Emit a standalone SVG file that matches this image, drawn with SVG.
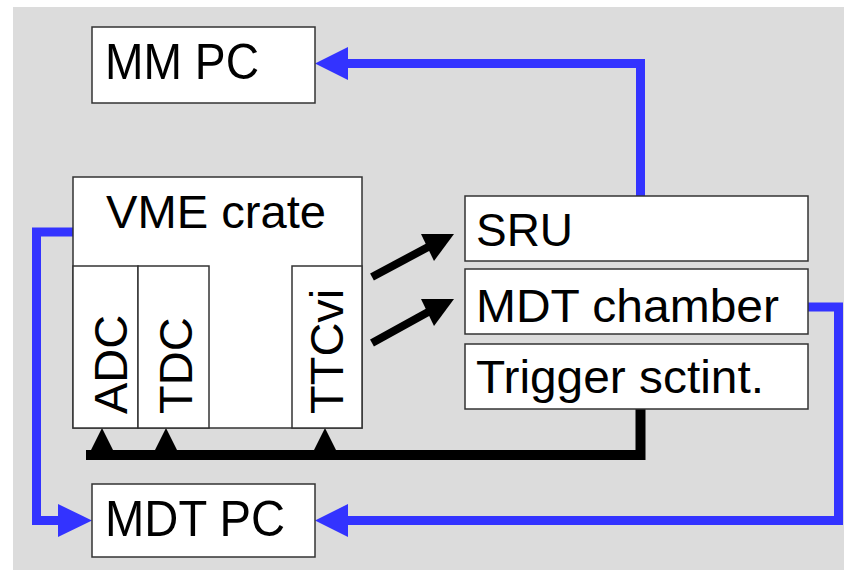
<svg xmlns="http://www.w3.org/2000/svg" width="844" height="571" viewBox="0 0 844 571">
  <style>
    .box { fill: #ffffff; stroke: #333333; stroke-width: 1.5; }
    .lbl { font-family: "Liberation Sans", Arial, sans-serif; fill: #000000; }
    .blue { fill: none; stroke: #3333ff; stroke-width: 9; stroke-linejoin: miter; }
    .bluehead { fill: #3333ff; }
    .black { fill: none; stroke: #000000; stroke-width: 10; stroke-linejoin: miter; }
  </style>

  <!-- backdrop -->
  <rect x="0" y="0" width="844" height="571" fill="#ffffff"/>
  <rect x="13" y="7" width="831" height="563" fill="#dcdcdc"/>

  <!-- connectors -->
  <g id="connectors">
    <!-- SRU -> MM PC -->
    <path class="blue" d="M640.5,196 V63.5 H346"/>
    <polygon class="bluehead" points="315,63.5 348,47 348,80"/>
    <!-- VME crate -> MDT PC -->
    <path class="blue" d="M73,232 H36.5 V520.5 H60"/>
    <polygon class="bluehead" points="92,520.5 58,504 58,537"/>
    <!-- MDT chamber -> MDT PC -->
    <path class="blue" d="M808,307 H838.5 V520.5 H345"/>
    <polygon class="bluehead" points="315,520.5 348,504 348,537"/>
    <!-- TTCvi -> SRU / MDT chamber -->
    <line x1="372" y1="277" x2="430" y2="246" stroke="#000" stroke-width="8"/>
    <polygon points="454,234 421,234 434,261" fill="#000"/>
    <line x1="372" y1="343" x2="430" y2="311" stroke="#000" stroke-width="8"/>
    <polygon points="454,299 421,299 434,326" fill="#000"/>
    <!-- trigger bus -->
    <path class="black" d="M640.5,409 V455 H86"/>
    <polygon points="102,428 86,460 118,460" fill="#000"/>
    <polygon points="166,428 150,460 182,460" fill="#000"/>
    <polygon points="325,428 309,460 341,460" fill="#000"/>
  </g>

  <g id="mm-pc">
    <rect class="box" x="92" y="27" width="223" height="76"/>
    <text class="lbl" x="105" y="79" font-size="50" textLength="154" lengthAdjust="spacingAndGlyphs">MM PC</text>
  </g>

  <g id="vme-crate">
    <rect class="box" x="73" y="177" width="289" height="251"/>
    <text class="lbl" x="106" y="228" font-size="47" textLength="220" lengthAdjust="spacingAndGlyphs">VME crate</text>
  </g>

  <g id="adc">
    <rect class="box" x="73" y="266" width="65" height="162"/>
    <text class="lbl" font-size="47" transform="translate(127,414) rotate(-90)">ADC</text>
  </g>

  <g id="tdc">
    <rect class="box" x="138" y="266" width="71" height="162"/>
    <text class="lbl" font-size="47" transform="translate(192,414) rotate(-90)">TDC</text>
  </g>

  <g id="ttcvi">
    <rect class="box" x="292" y="266" width="70" height="162"/>
    <text class="lbl" font-size="47" transform="translate(343,414) rotate(-90)">TTCvi</text>
  </g>

  <g id="sru">
    <rect class="box" x="465" y="196" width="343" height="65"/>
    <text class="lbl" x="476" y="246" font-size="47" textLength="97" lengthAdjust="spacingAndGlyphs">SRU</text>
  </g>

  <g id="mdt-chamber">
    <rect class="box" x="465" y="269" width="343" height="65"/>
    <text class="lbl" x="476" y="322" font-size="47" textLength="303" lengthAdjust="spacingAndGlyphs">MDT chamber</text>
  </g>

  <g id="trigger-sctint">
    <rect class="box" x="465" y="344" width="343" height="65"/>
    <text class="lbl" x="476" y="393" font-size="47" textLength="288" lengthAdjust="spacingAndGlyphs">Trigger sctint.</text>
  </g>

  <g id="mdt-pc">
    <rect class="box" x="92" y="484" width="223" height="73"/>
    <text class="lbl" x="105" y="536" font-size="50" textLength="180" lengthAdjust="spacingAndGlyphs">MDT PC</text>
  </g>
</svg>
